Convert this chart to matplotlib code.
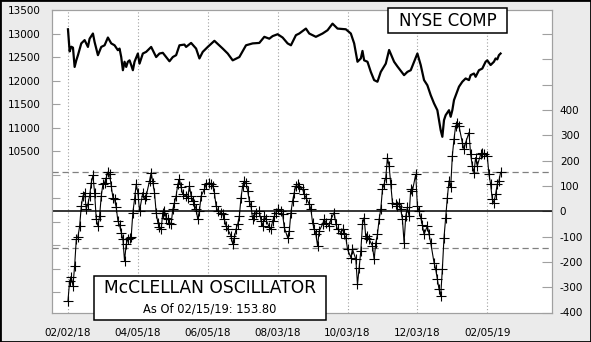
import numpy as np
import pandas as pd
import matplotlib
matplotlib.use('Agg')
import matplotlib.pyplot as plt
from matplotlib.patches import Rectangle

plt.rcParams['font.family'] = ['DejaVu Sans']

# NYSE trading calendar for the chart span
holidays = ['2018-02-19', '2018-03-30', '2018-05-28', '2018-07-04', '2018-09-03',
            '2018-11-22', '2018-12-05', '2018-12-25', '2019-01-01', '2019-01-21']
days = pd.bdate_range('2018-02-02', '2019-02-15', freq='C', holidays=holidays)

tick_dates = ['2018-02-02', '2018-04-05', '2018-06-05', '2018-08-03',
              '2018-10-03', '2018-12-03', '2019-02-05']
tick_labels = ['02/02/18', '04/05/18', '06/05/18', '08/03/18',
               '10/03/18', '12/03/18', '02/05/19']

# NYSE composite close (trading-day index, value)
nyse_day = [0, 1, 2, 3, 4, 5, 6, 8, 10, 11, 12, 13, 15, 16, 18, 20, 22, 24, 26, 28,
            30, 31, 32, 33, 34, 35, 36, 37, 38, 39, 40, 42, 43, 44, 45, 47, 50, 53, 55, 57,
            59, 61, 63, 65, 67, 70, 71, 74, 77, 79, 81, 84, 88, 93, 96, 99, 103, 107, 111, 115,
            118, 121, 123, 126, 129, 132, 134, 137, 139, 143, 145, 149, 153, 156, 159, 162, 167, 170, 172, 174,
            176, 177, 178, 180, 182, 184, 186, 188, 191, 193, 196, 198, 202, 204, 206, 208, 210, 212, 214, 216,
            218, 220, 222, 224, 225, 226, 227, 229, 230, 231, 232, 235, 237, 239, 241, 242, 244, 245, 247, 249,
            251, 252, 254, 256, 257, 258, 259, 260]
nyse_close = [13090, 12620, 12720, 12700, 12290, 12430, 12540, 12790, 12860, 12790, 12715, 12890, 13000, 12820, 12540, 12715, 12750, 12915, 12790, 12750,
              12645, 12680, 12500, 12220, 12400, 12290, 12400, 12430, 12330, 12220, 12400, 12575, 12360, 12470, 12575, 12610, 12715, 12500, 12575, 12590,
              12500, 12410, 12500, 12540, 12750, 12765, 12715, 12800, 12680, 12470, 12610, 12715, 12845, 12680, 12575, 12430, 12500, 12750, 12790, 12800,
              12930, 12890, 12945, 12985, 12915, 12790, 12750, 12965, 13000, 13105, 13000, 12930, 13000, 13070, 13210, 13105, 13090, 13000, 12790, 12400,
              12470, 12630, 12430, 12400, 12185, 12010, 11975, 12185, 12360, 12650, 12400, 12300, 12115, 12185, 12220, 12400, 12575, 12330, 12010, 11900,
              11690, 11515, 11370, 10945, 10805, 11160, 11265, 11370, 11230, 11370, 11585, 11870, 11975, 12045, 12010, 12115, 12150, 12080, 12220, 12255,
              12400, 12430, 12330, 12400, 12470, 12450, 12540, 12575]

# McClellan oscillator (trading-day index, value)
osc_day = [0, 1, 2, 3, 4, 5, 6, 7, 8, 9, 10, 11, 12, 13, 14, 15, 16, 17, 18, 19,
           20, 21, 22, 23, 24, 25, 26, 27, 28, 29, 30, 31, 32, 33, 34, 35, 36, 37, 38, 39,
           40, 41, 42, 43, 45, 46, 47, 49, 50, 51, 52, 53, 54, 55, 56, 57, 58, 59, 60, 61,
           62, 63, 64, 65, 66, 67, 68, 69, 71, 72, 73, 74, 75, 76, 77, 78, 79, 80, 82, 83,
           85, 86, 87, 88, 89, 90, 92, 93, 94, 95, 96, 98, 99, 100, 101, 102, 103, 104, 105, 106,
           107, 108, 109, 110, 111, 112, 113, 115, 116, 117, 118, 119, 121, 122, 123, 124, 125, 126, 128, 129,
           130, 132, 133, 134, 135, 136, 137, 138, 139, 141, 142, 143, 145, 146, 147, 148, 149, 150, 151, 153,
           154, 155, 157, 158, 160, 161, 162, 164, 165, 166, 167, 168, 170, 171, 173, 174, 175, 176, 177, 178,
           179, 180, 181, 183, 184, 185, 186, 187, 188, 189, 190, 191, 192, 193, 194, 195, 197, 198, 199, 200,
           201, 202, 203, 204, 205, 206, 207, 209, 210, 211, 212, 213, 214, 216, 217, 218, 220, 221, 222, 223,
           224, 225, 226, 227, 228, 229, 230, 231, 232, 233, 234, 235, 237, 238, 239, 241, 242, 243, 244, 245,
           246, 248, 249, 250, 252, 253, 254, 255, 256, 257, 258, 259, 260]
osc_value = [-354, -275, -261, -295, -216, -111, -100, -60, 20, 60, 74, 8, 30, 60, 113, 142, 74, -32, -58, -19,
             60, 107, 113, 133, 155, 146, 100, 54, 47, 15, -38, -55, -84, -111, -197, -130, -111, -104, -100, -5,
             47, 107, 74, 1, 74, 47, 60, 120, 153, 113, 74, -5, -45, -64, -71, -5, 1, -25, -32, -45,
             -51, 8, 34, 60, 107, 126, 94, 67, 60, 54, 100, 60, 41, 28, 8, -32, 1, 60, 87, 107,
             113, 107, 100, 74, 21, 1, -5, -12, -32, -58, -71, -98, -130, -104, -71, -51, -19, 54, 100, 120,
             113, 80, 41, 21, -32, -19, -5, 1, -38, -58, -19, -32, -64, -71, -38, -19, -5, 8, 1, -12,
             -64, -104, -78, -5, 41, 74, 100, 107, 94, 87, 67, 54, 28, 8, -45, -71, -91, -137, -78, -51,
             -32, -45, -58, -32, -5, -51, -71, -84, -71, -91, -104, -150, -183, -150, -190, -289, -223, -157, -51, -25,
             -104, -98, -111, -137, -190, -124, -91, -32, 8, 87, 107, 133, 212, 179, 107, 34, 28, 21, 34, 8,
             -32, -124, -19, 15, -19, 87, 80, 146, 21, 1, -25, -55, -91, -58, -91, -124, -203, -229, -269, -308,
             -335, -229, -104, -25, 54, 120, 94, 219, 285, 337, 350, 337, 271, 245, 271, 311, 225, 179, 153, 212,
             179, 225, 232, 225, 219, 146, 107, 47, 34, 67, 107, 120, 153.8]

band_levels = [155, -147]
nyse_ticks = np.arange(7500, 13501, 500)
nyse_labelled = np.arange(10500, 13501, 500)
osc_ticks = np.arange(-400, 701, 100)
osc_labelled = np.arange(-400, 401, 100)

bg = '#ebebeb'
grey = '#a0a0a0'

fig = plt.figure(figsize=(5.91, 3.42), dpi=100, facecolor=bg)
ax = fig.add_axes([52 / 591, 29.5 / 342, 499.5 / 591, 302.5 / 342])
ax2 = ax.twinx()

xpos = [days.get_loc(pd.Timestamp(d)) for d in tick_dates]

# vertical dotted grid
for xp in xpos:
    ax.axvline(xp, color=grey, lw=0.8, ls=(0, (1, 2)), zorder=1)

ax.plot(nyse_day, nyse_close, color='black', lw=1.6, zorder=3)
ax.set_xlim(-9.6, 290.6)
ax.set_ylim(7070, 13500)

ax2.axhline(0, color='black', lw=1.1, zorder=2)
for lv in band_levels:
    ax2.axhline(lv, color='#808080', lw=0.9, ls=(0, (5, 3)), zorder=2)
ax2.plot(osc_day, osc_value, color='black', lw=0.8, marker='+', ms=7,
         mew=0.8, zorder=3)
ax2.set_ylim(-400, 795)

ax.set_xticks(xpos)
ax.set_xticklabels(tick_labels, fontsize=7.5)
ax.tick_params(axis='x', length=0, pad=11)

ax.set_yticks(nyse_ticks)
ax.set_yticklabels([str(v) if v in nyse_labelled else '' for v in nyse_ticks], fontsize=7.5)
ax.tick_params(axis='y', direction='in', length=6, color=grey, pad=8)

ax2.set_yticks(osc_ticks)
ax2.set_yticklabels([str(v) if v in osc_labelled else '' for v in osc_ticks], fontsize=7.5)
ax2.tick_params(axis='y', direction='in', length=7, color=grey, pad=6)

for a in (ax, ax2):
    for s in a.spines.values():
        s.set_color(grey)
        s.set_linewidth(0.8)

# title boxes
fig.patches.append(Rectangle((388 / 591, 309 / 342), 119 / 591, 25 / 342,
                             transform=fig.transFigure, facecolor='white',
                             edgecolor='black', lw=1.1, zorder=5))
fig.text(447.5 / 591, 321.5 / 342, 'NYSE COMP', fontsize=12, ha='center',
         va='center', zorder=6)

fig.patches.append(Rectangle((94 / 591, 22 / 342), 232 / 591, 44 / 342,
                             transform=fig.transFigure, facecolor='white',
                             edgecolor='black', lw=1.1, zorder=5))
fig.text(210 / 591, 54 / 342, 'McCLELLAN OSCILLATOR', fontsize=12.3,
         ha='center', va='center', zorder=6)
fig.text(210 / 591, 32.5 / 342, 'As Of 02/15/19: 153.80', fontsize=8.3,
         ha='center', va='center', zorder=6)

# outer frame
fig.patches.append(Rectangle((0, 0), 1, 1, transform=fig.transFigure,
                             facecolor='none', edgecolor='black', lw=2, zorder=10))

fig.savefig('out.png', dpi=100, facecolor=fig.get_facecolor())
